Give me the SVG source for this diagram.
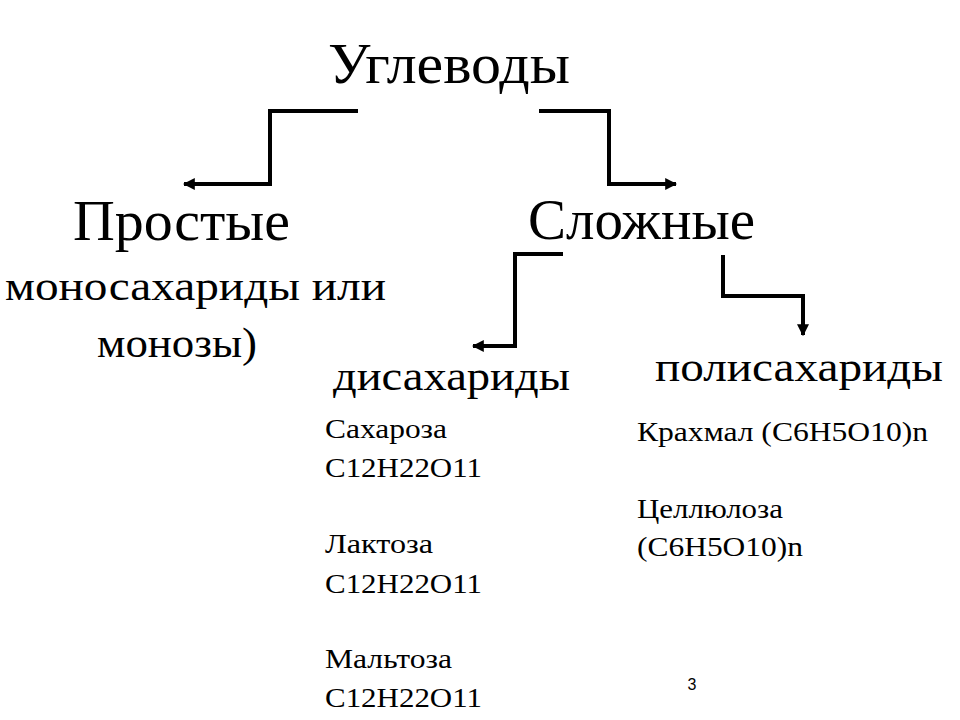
<svg xmlns="http://www.w3.org/2000/svg" width="960" height="720" viewBox="0 0 960 720">
<style>
.t{font-family:"Liberation Serif","Times New Roman","DejaVu Serif",serif;fill:#000}
.big{font-size:58px}
.mid{font-size:43px}
.sm{font-size:27px}
.pg{font-family:"Liberation Sans",Arial,"DejaVu Sans",sans-serif;font-size:16px;fill:#000}
.c{fill:none;stroke:#000;stroke-width:4;stroke-linejoin:miter;stroke-linecap:butt}
</style>
<defs>
<marker id="ah" viewBox="0 0 10 10" refX="9" refY="5" markerWidth="3" markerHeight="3" orient="auto" markerUnits="strokeWidth">
<path d="M0,0 L10,5 L0,10 z" fill="#000"/>
</marker>
</defs>
<rect width="960" height="720" fill="#fff"/>
<g id="connectors">
<path class="c" d="M358,111 H270 V184 H184" marker-end="url(#ah)"/>
<path class="c" d="M539,111 H609 V184 H676" marker-end="url(#ah)"/>
<path class="c" d="M563,254 H515 V346 H473" marker-end="url(#ah)"/>
<path class="c" d="M723,255 V296 H803 V335" marker-end="url(#ah)"/>
</g>
<g id="n-root"><text class="t big" font-family="Liberation Serif, Times New Roman, DejaVu Serif, serif" x="328" y="83" textLength="242" lengthAdjust="spacingAndGlyphs">Углеводы</text></g>
<g id="n-simple" font-family="Liberation Serif, Times New Roman, DejaVu Serif, serif">
<text class="t big" x="73" y="240" textLength="217" lengthAdjust="spacingAndGlyphs">Простые</text>
<text class="t mid" x="5" y="300" textLength="381" lengthAdjust="spacingAndGlyphs">моносахариды или</text>
<text class="t mid" x="97" y="357" textLength="160" lengthAdjust="spacingAndGlyphs">монозы)</text>
</g>
<g id="n-complex" font-family="Liberation Serif, Times New Roman, DejaVu Serif, serif"><text class="t big" x="528" y="239" textLength="227" lengthAdjust="spacingAndGlyphs">Сложные</text></g>
<g id="n-di" font-family="Liberation Serif, Times New Roman, DejaVu Serif, serif">
<text class="t mid" x="333" y="390" textLength="237" lengthAdjust="spacingAndGlyphs">дисахариды</text>
<text class="t sm" x="325" y="438" textLength="122" lengthAdjust="spacingAndGlyphs">Сахароза</text>
<text class="t sm" x="325" y="477" textLength="157" lengthAdjust="spacingAndGlyphs">C12H22O11</text>
<text class="t sm" x="325" y="553" textLength="108" lengthAdjust="spacingAndGlyphs">Лактоза</text>
<text class="t sm" x="325" y="593" textLength="157" lengthAdjust="spacingAndGlyphs">C12H22O11</text>
<text class="t sm" x="325" y="668" textLength="127" lengthAdjust="spacingAndGlyphs">Мальтоза</text>
<text class="t sm" x="325" y="707" textLength="157" lengthAdjust="spacingAndGlyphs">C12H22O11</text>
</g>
<g id="n-poly" font-family="Liberation Serif, Times New Roman, DejaVu Serif, serif">
<text class="t mid" x="655" y="381" textLength="288" lengthAdjust="spacingAndGlyphs">полисахариды</text>
<text class="t sm" x="637" y="441" textLength="291" lengthAdjust="spacingAndGlyphs">Крахмал (C6H5O10)n</text>
<text class="t sm" x="637" y="518" textLength="146" lengthAdjust="spacingAndGlyphs">Целлюлоза</text>
<text class="t sm" x="637" y="556" textLength="166" lengthAdjust="spacingAndGlyphs">(C6H5O10)n</text>
</g>
<text class="pg" x="692" y="690" text-anchor="middle">3</text>
</svg>
